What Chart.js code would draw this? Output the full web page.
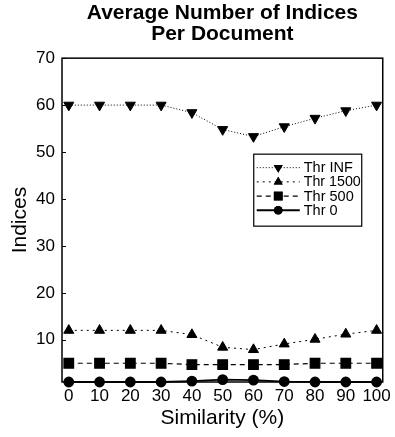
<!DOCTYPE html>
<html>
<head>
<meta charset="utf-8">
<script src="https://cdn.jsdelivr.net/npm/chart.js@4/dist/chart.umd.min.js"></script>
<style>
  html, body { margin: 0; padding: 0; background: #fff; }
  #wrap { width: 395px; height: 437px; }
</style>
</head>
<body>
<div id="wrap"><canvas id="chart" width="395" height="437"></canvas></div>
<script>
const similarity = [0, 10, 20, 30, 40, 50, 60, 70, 80, 90, 100];
const thrInf = [60, 60, 60, 60, 58.4, 54.8, 53.3, 55.4, 57.2, 58.8, 60];
const thr1500 = [12, 12, 12, 12, 11.1, 8.4, 7.9, 9.1, 10.1, 11.2, 12];
const thr500 = [5, 5, 5, 5, 4.7, 4.7, 4.7, 4.7, 5, 5, 5];
const thr0 = [1, 1, 1, 1, 1.2, 1.5, 1.4, 1.1, 1, 1, 1];
const yTicks = [10, 20, 30, 40, 50, 60, 70];
const xTicks = [0, 10, 20, 30, 40, 50, 60, 70, 80, 90, 100];

const font = 'Liberation Sans, Arial, sans-serif';

function pts(values) {
  return values.map((v, i) => ({ x: similarity[i], y: v }));
}

// legend markers are a bit smaller than the plot ones
const legendRadius = { triangle: 5.2, rect: 6.2, circle: 4.3 };

// frame, inward y ticks and the boxed legend inside the plot
const framePlugin = {
  id: 'frame',
  afterDraw(chart) {
    const ctx = chart.ctx;
    const a = chart.chartArea;
    const ys = chart.scales.y;
    ctx.save();
    ctx.strokeStyle = '#000';
    ctx.lineWidth = 1.5;
    ctx.strokeRect(a.left, a.top, a.right - a.left, a.bottom - a.top);
    ctx.lineWidth = 1;
    yTicks.forEach(t => {
      const py = Math.round(ys.getPixelForValue(t)) + 0.5;
      ctx.beginPath();
      ctx.moveTo(a.left, py);
      ctx.lineTo(a.left + 4, py);
      ctx.stroke();
    });

    const bx = a.right - 129, by = a.top + 96, bw = 108, bh = 72;
    ctx.fillStyle = '#fff';
    ctx.fillRect(bx, by, bw, bh);
    ctx.lineWidth = 1.2;
    ctx.strokeRect(bx, by, bw, bh);
    chart.data.datasets.forEach((ds, i) => {
      const cy = by + 13.5 + i * 14.2;
      ctx.save();
      ctx.strokeStyle = '#000';
      ctx.lineWidth = ds.borderWidth;
      ctx.setLineDash(ds.borderDash || []);
      ctx.beginPath();
      ctx.moveTo(bx + 3, cy);
      ctx.lineTo(bx + 46, cy);
      ctx.stroke();
      ctx.setLineDash([]);
      ctx.fillStyle = '#000';
      Chart.helpers.drawPoint(ctx, {
        pointStyle: ds.pointStyle,
        rotation: ds.pointRotation || 0,
        radius: legendRadius[ds.pointStyle],
        borderWidth: 0
      }, bx + 24.5, cy);
      ctx.fill();
      ctx.restore();
      ctx.fillStyle = '#000';
      ctx.font = '14.5px ' + font;
      ctx.textBaseline = 'middle';
      ctx.fillText(ds.label, bx + 50, cy + 0.5, bw - 51);
    });
    ctx.restore();
  }
};

new Chart(document.getElementById('chart'), {
  type: 'line',
  data: {
    datasets: [
      {
        label: 'Thr INF',
        data: pts(thrInf),
        borderColor: '#000', backgroundColor: '#000',
        borderWidth: 1, borderDash: [1, 2],
        pointStyle: 'triangle', pointRotation: 180, pointRadius: 5.8
      },
      {
        label: 'Thr 1500',
        data: pts(thr1500),
        borderColor: '#000', backgroundColor: '#000',
        borderWidth: 1, borderDash: [2, 4],
        pointStyle: 'triangle', pointRotation: 0, pointRadius: 5.8
      },
      {
        label: 'Thr 500',
        data: pts(thr500),
        borderColor: '#000', backgroundColor: '#000',
        borderWidth: 1.2, borderDash: [5, 4],
        pointStyle: 'rect', pointRadius: 6.8
      },
      {
        label: 'Thr 0',
        data: pts(thr0),
        borderColor: '#000', backgroundColor: '#000',
        borderWidth: 1.8,
        pointStyle: 'circle', pointRadius: 4.5
      }
    ]
  },
  options: {
    responsive: false,
    animation: false,
    clip: false,
    layout: { padding: { top: 0, right: 9, bottom: 0, left: 0 } },
    elements: { line: { tension: 0 }, point: { borderWidth: 0 } },
    plugins: {
      legend: { display: false },
      tooltip: { enabled: false },
      title: {
        display: true,
        fullSize: false,
        text: ['Average Number of Indices', 'Per Document'],
        color: '#000',
        font: { family: font, size: 21, weight: 'bold', lineHeight: 0.98 },
        padding: { top: 3, bottom: 14 }
      }
    },
    scales: {
      x: {
        type: 'linear',
        min: -2.2, max: 102,
        afterBuildTicks: s => { s.ticks = xTicks.map(v => ({ value: v })); },
        afterFit: s => { s.height = 55; },
        grid: { display: false, drawTicks: false },
        border: { display: false },
        ticks: { color: '#000', font: { family: font, size: 17 }, padding: 4, maxRotation: 0 },
        title: { display: true, text: 'Similarity (%)', color: '#000', font: { family: font, size: 21 }, padding: { top: 2, bottom: 6 } }
      },
      y: {
        min: 1, max: 70,
        afterBuildTicks: s => { s.ticks = yTicks.map(v => ({ value: v })); },
        afterFit: s => { s.width = 62; },
        grid: { display: false, drawTicks: false },
        border: { display: false },
        ticks: { color: '#000', font: { family: font, size: 17 }, padding: 7 },
        title: { display: true, text: 'Indices', color: '#000', font: { family: font, size: 21 }, padding: { top: 8, bottom: 0 } }
      }
    }
  },
  plugins: [framePlugin]
});
</script>
</body>
</html>
